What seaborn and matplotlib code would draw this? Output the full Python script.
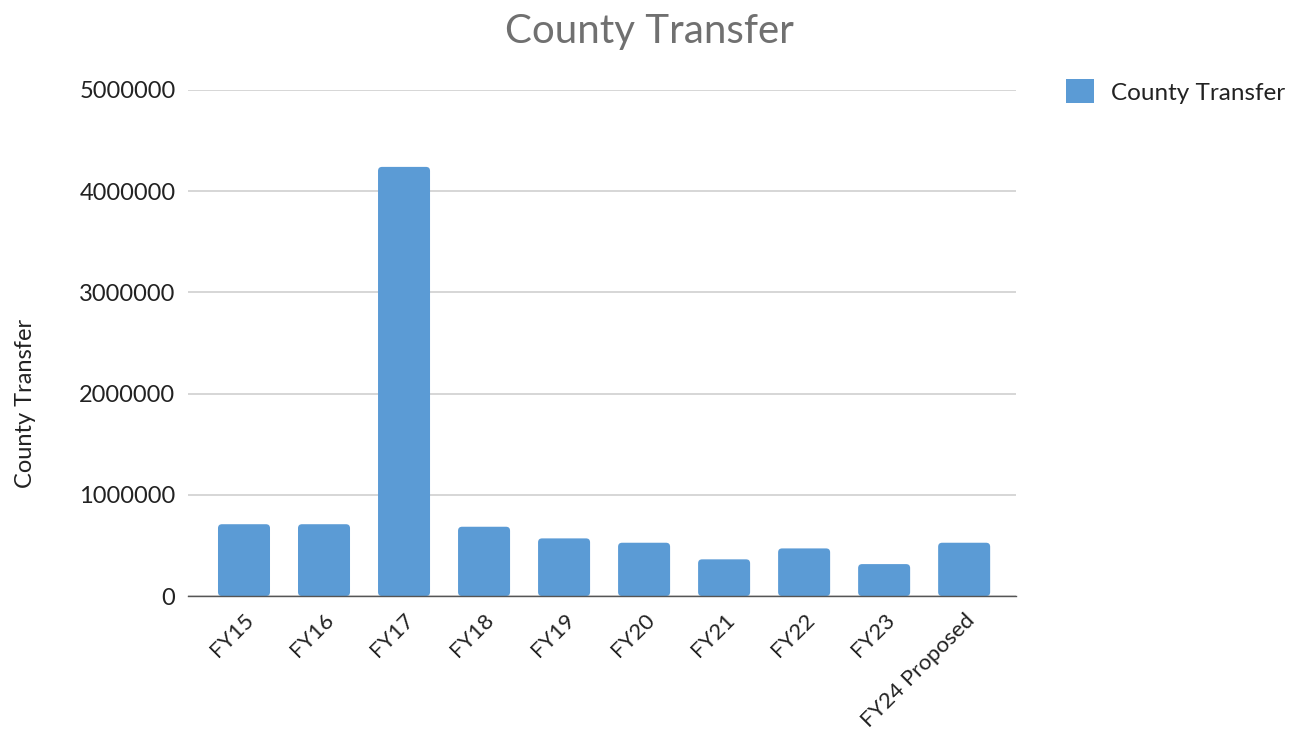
import matplotlib
matplotlib.use("Agg")
import matplotlib.pyplot as plt
from matplotlib.patches import Patch, FancyBboxPatch
import seaborn as sns
import pandas as pd

categories = ["FY15", "FY16", "FY17", "FY18", "FY19", "FY20",
              "FY21", "FY22", "FY23", "FY24 Proposed"]
county_transfer = [710000, 710000, 4240000, 685000, 570000, 527000,
                   363000, 471000, 316000, 527000]
y_ticks = [0, 1000000, 2000000, 3000000, 4000000, 5000000]

BAR_COLOR = "#5B9BD5"
LABEL_COLOR = "#222222"

sns.set_theme(style="white")
plt.rcParams["font.family"] = ["Lato", "DejaVu Sans"]

df = pd.DataFrame({"Year": categories, "County Transfer": county_transfer})

fig = plt.figure(figsize=(12.92, 7.35), dpi=100)
ax = fig.add_axes([0.1455, 0.189, 0.641, 0.6886])

sns.barplot(data=df, x="Year", y="County Transfer", color=BAR_COLOR,
            width=0.65, saturation=1, ax=ax)

ax.set_ylim(0, 5000000)
ax.set_xlim(-0.7, 9.65)

# Swap the plain rectangles for softly rounded ones of the same geometry
fig.canvas.draw()
px_x = ax.transData.transform((1, 0))[0] - ax.transData.transform((0, 0))[0]
px_y = ax.transData.transform((0, 1e6))[1] - ax.transData.transform((0, 0))[1]
aspect = (1e6 / px_y) / (1.0 / px_x)
radius = 4.0 / px_x
for bar in list(ax.patches):
    x, y = bar.get_x(), bar.get_y()
    w, h = bar.get_width(), bar.get_height()
    bar.remove()
    ax.add_patch(FancyBboxPatch((x, y), w, h,
                                boxstyle=f"round,pad=0,rounding_size={radius}",
                                mutation_aspect=aspect,
                                facecolor=BAR_COLOR, edgecolor="none", zorder=2))

ax.set_yticks(y_ticks)
ax.set_yticklabels([str(v) for v in y_ticks], fontsize=17, color=LABEL_COLOR)
ax.tick_params(axis="y", length=0, pad=9)
ax.tick_params(axis="x", length=0, pad=10)
for lbl in ax.get_xticklabels():
    lbl.set_rotation(45)
    lbl.set_ha("right")
    lbl.set_rotation_mode("anchor")
    lbl.set_fontsize(16)
    lbl.set_color(LABEL_COLOR)

ax.yaxis.grid(True, color="#D0D0D0", linewidth=1.2)
ax.set_axisbelow(True)
for side in ["top", "right", "left"]:
    ax.spines[side].set_visible(False)
ax.spines["bottom"].set_color("#555555")
ax.spines["bottom"].set_linewidth(1.0)

ax.set_xlabel("")
ax.set_ylabel("County Transfer", fontsize=17, color=LABEL_COLOR)
ax.yaxis.set_label_coords(-0.183, 0.381)

fig.suptitle("County Transfer", x=0.503, y=0.982, fontsize=29, color="#707070")

handle = Patch(facecolor=BAR_COLOR, edgecolor="none", label="County Transfer")
fig.legend(handles=[handle], loc="upper left", bbox_to_anchor=(0.808, 0.922),
           frameon=False, fontsize=17.5, handlelength=1.15, handleheight=1.15,
           handletextpad=0.7, labelcolor=LABEL_COLOR)

fig.savefig("out.png", dpi=100)
